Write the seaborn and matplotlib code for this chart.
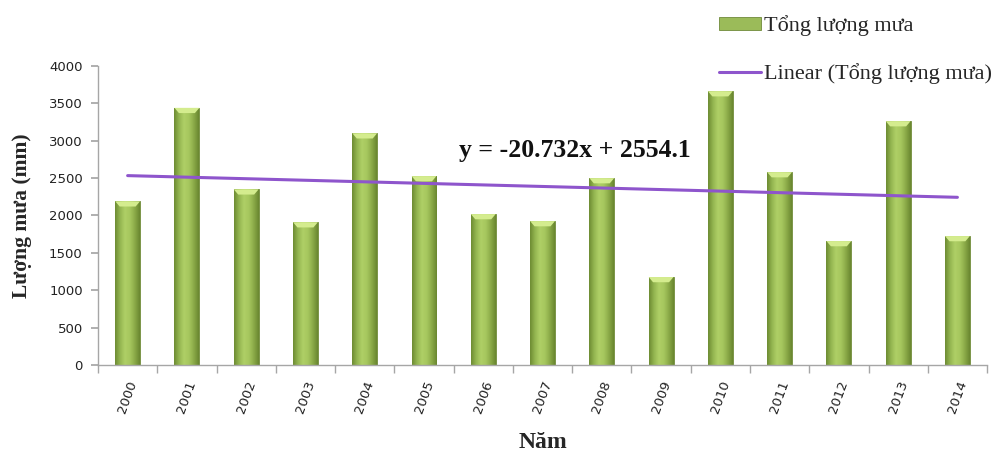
import numpy as np
import pandas as pd
import matplotlib
matplotlib.use("Agg")
import matplotlib.pyplot as plt
from matplotlib.colors import LinearSegmentedColormap
from matplotlib.lines import Line2D
from matplotlib.patches import Patch
import seaborn as sns

# Annual rainfall totals (mm)
years = ["2000", "2001", "2002", "2003", "2004", "2005", "2006", "2007",
         "2008", "2009", "2010", "2011", "2012", "2013", "2014"]
rainfall = [2190, 3440, 2350, 1910, 3100, 2527, 2019, 1925,
            2500, 1177, 3663, 2580, 1658, 3262, 1725]

# Linear trend: y = slope * x + intercept, x = 1..n
slope = -20.732
intercept = 2554.1

y_ticks = [0, 500, 1000, 1500, 2000, 2500, 3000, 3500, 4000]

sns.set_theme(style="white")
plt.rcParams["font.family"] = ["DejaVu Sans"]

serif = ["Liberation Serif", "DejaVu Serif"]
bar_green = "#9BBB59"
trend_purple = "#8E55CC"

df = pd.DataFrame({"Năm": years, "Tổng lượng mưa": rainfall})

fig = plt.figure(figsize=(9.95, 4.51), dpi=100)
ax = fig.add_axes([0.0985, 0.1907, 0.8935, 0.663])

sns.barplot(data=df, x="Năm", y="Tổng lượng mưa", color=bar_green,
            width=0.42, saturation=1, edgecolor="#6F8A3A", linewidth=0.6, ax=ax)

ax.set_xlim(-0.5, len(years) - 0.5)
ax.set_ylim(0, 4000)

# Bevelled shading inside each bar
cmap = LinearSegmentedColormap.from_list(
    "bevel", ["#6E8C33", "#94B651", "#AFCF66", "#A6C75E", "#8BAA48", "#6A8730"])
grad = np.linspace(0, 1, 64).reshape(1, -1)
for patch in ax.patches:
    x0, y0 = patch.get_x(), patch.get_y()
    w, h = patch.get_width(), patch.get_height()
    im = ax.imshow(grad, extent=[x0, x0 + w, y0, y0 + h], cmap=cmap,
                   aspect="auto", origin="lower", zorder=patch.get_zorder() + 0.1,
                   interpolation="bilinear")
    im.set_clip_path(patch)
    cap = min(70, h * 0.2)
    ax.fill([x0, x0 + w, x0 + w * 0.82, x0 + w * 0.18],
            [y0 + h, y0 + h, y0 + h - cap, y0 + h - cap],
            color="#D4EC8E", zorder=patch.get_zorder() + 0.2, lw=0)
ax.set_xlim(-0.5, len(years) - 0.5)
ax.set_ylim(0, 4000)

# Trend line from the fitted equation
xs = np.arange(len(years))
trend = slope * (xs + 1) + intercept
ax.plot(xs, trend, color=trend_purple, lw=2.2, zorder=5)

ax.text(7.55, 2870, f"y = {slope}x + {intercept}", ha="center", va="center",
        family=serif, fontsize=18.5, fontweight="bold", color="#111111", zorder=6)

# Axes styling
for side in ["top", "right"]:
    ax.spines[side].set_visible(False)
for side in ["left", "bottom"]:
    ax.spines[side].set_color("#A6A6A6")
    ax.spines[side].set_linewidth(1.0)

ax.set_yticks(y_ticks)
ax.set_yticklabels([str(v) for v in y_ticks], fontsize=9.5, color="#222222")
ax.tick_params(axis="y", which="major", direction="out", length=5,
               color="#A6A6A6", left=True, pad=6)

ax.set_xticks(xs)
ax.set_xticklabels(years, rotation=70, fontsize=9.5, color="#222222",
                   ha="center", va="top")
ax.tick_params(axis="x", which="major", length=0, pad=10)
ax.set_xticks(np.arange(-0.5, len(years), 1), minor=True)
ax.tick_params(axis="x", which="minor", direction="out", length=6,
               color="#A6A6A6", bottom=True)

ax.set_xlabel("Năm", family=serif, fontsize=17, fontweight="bold", labelpad=12)
ax.set_ylabel("Lượng mưa (mm)", family=serif, fontsize=15.5, fontweight="bold",
              labelpad=12)

handles = [
    Patch(facecolor=bar_green, edgecolor="#6F8A3A", linewidth=0.6),
    Line2D([0], [0], color=trend_purple, lw=2.2),
]
fig.legend(handles, ["Tổng lượng mưa", "Linear (Tổng lượng mưa)"],
           loc="upper left", bbox_to_anchor=(0.703, 1.01), frameon=False,
           prop={"family": serif, "size": 16}, handlelength=1.85,
           handleheight=0.55, handletextpad=0.15, labelspacing=1.2)

fig.savefig("out.png", dpi=100)
